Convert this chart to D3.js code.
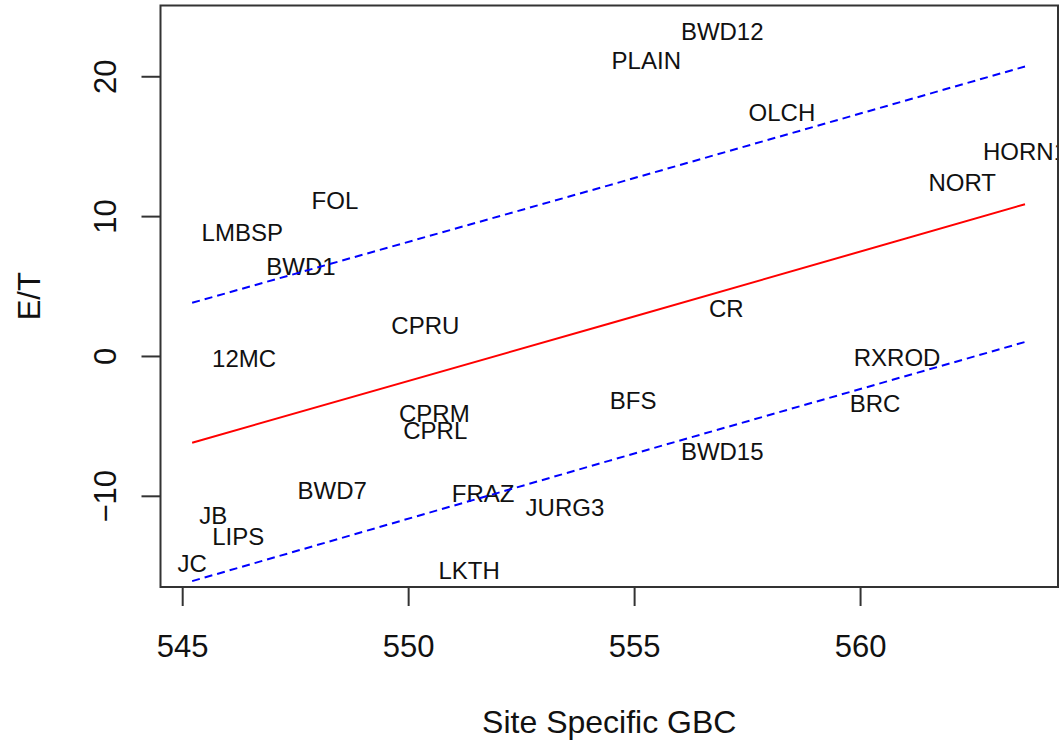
<!DOCTYPE html>
<html>
<head>
<meta charset="utf-8">
<script src="https://cdn.jsdelivr.net/npm/d3@7"></script>
<style>
  html, body { margin: 0; padding: 0; background: #ffffff; }
  svg { display: block; }
  text { font-family: "Liberation Sans", Arial, sans-serif; fill: #111; }
</style>
</head>
<body>
<script>
// ---- data ----
const siteNames = ["BWD12","PLAIN","OLCH","HORN1","NORT","FOL","LMBSP","BWD1","CPRU","CR",
  "12MC","RXROD","BFS","BRC","CPRM","CPRL","BWD15","BWD7","FRAZ","JURG3","JB","LIPS","JC","LKTH"];
const siteGBC = [556.95,555.27,558.27,563.65,562.26,548.38,546.33,547.63,550.38,557.04,
  546.37,560.82,554.98,560.33,550.58,550.60,556.95,548.32,551.66,553.47,545.69,546.24,545.22,551.35];
const siteET = [23.2,21.1,17.4,14.6,12.4,11.1,8.8,6.4,2.2,3.4,
  -0.2,-0.1,-3.2,-3.4,-4.1,-5.3,-6.8,-9.6,-9.8,-10.8,-11.4,-12.9,-14.8,-15.3];

const lineX = [545.22, 554.44, 563.65];
const fitY = [-6.2, 2.3, 10.85];
const upperY = [3.8, 12.2, 20.7];
const lowerY = [-16.1, -7.5, 1.0];

const xTicks = [545, 550, 555, 560];
const yTicks = [-10, 0, 10, 20];
const xTitle = "Site Specific GBC";
const yTitle = "E/T";

// ---- layout ----
const W = 1064, H = 746;
const box = {left: 160.5, right: 1058, top: 5.5, bottom: 587};

const x = d3.scaleLinear().domain([544.52, 564.38]).range([box.left, box.right]);
const y = d3.scaleLinear().domain([-16.52, 25.06]).range([box.bottom, box.top]);

const svg = d3.select("body").append("svg").attr("width", W).attr("height", H);

svg.append("defs").append("clipPath").attr("id", "plotclip")
  .append("rect").attr("x", box.left).attr("y", box.top)
  .attr("width", box.right - box.left).attr("height", box.bottom - box.top);

const plot = svg.append("g").attr("clip-path", "url(#plotclip)");

const line = d3.line().x(d => x(d[0])).y(d => y(d[1]));

// labels
const labelSize = 24;
plot.selectAll("text.site").data(siteNames).join("text")
  .attr("class", "site")
  .attr("x", (d, i) => x(siteGBC[i]))
  .attr("y", (d, i) => y(siteET[i]) + 0.358 * labelSize)
  .attr("text-anchor", "middle")
  .attr("font-size", labelSize)
  .text(d => d);

// fitted line and bands
plot.append("path").datum(lineX.map((v, i) => [v, fitY[i]]))
  .attr("d", line).attr("fill", "none").attr("stroke", "#ff0000").attr("stroke-width", 2);
[upperY, lowerY].forEach(arr => {
  plot.append("path").datum(lineX.map((v, i) => [v, arr[i]]))
    .attr("d", line).attr("fill", "none").attr("stroke", "#0000ff")
    .attr("stroke-width", 2).attr("stroke-dasharray", "8,5");
});

// box
svg.append("rect").attr("x", box.left).attr("y", box.top)
  .attr("width", box.right - box.left).attr("height", box.bottom - box.top)
  .attr("fill", "none").attr("stroke", "#333").attr("stroke-width", 2);

// axes
const tickSize = 31;
const xAxis = d3.axisBottom(x).tickValues(xTicks).tickSize(19).tickPadding(28).tickFormat(d3.format("d"));
const gx = svg.append("g").attr("transform", `translate(0,${box.bottom})`).call(xAxis);
gx.select(".domain").remove();
gx.selectAll(".tick line").attr("stroke", "#333").attr("stroke-width", 2);
gx.selectAll(".tick text").attr("font-size", tickSize).attr("font-family", "Liberation Sans, Arial, sans-serif")
  .attr("fill", "#111").attr("dy", null).attr("y", 70);

const yAxis = d3.axisLeft(y).tickValues(yTicks).tickSize(19).tickFormat(d3.format("d"));
const gy = svg.append("g").attr("transform", `translate(${box.left},0)`).call(yAxis);
gy.select(".domain").remove();
gy.selectAll(".tick line").attr("stroke", "#333").attr("stroke-width", 2);
gy.selectAll(".tick text").attr("font-size", tickSize).attr("font-family", "Liberation Sans, Arial, sans-serif")
  .attr("fill", "#111").attr("x", null).attr("dy", null)
  .attr("text-anchor", "middle")
  .attr("transform", `translate(${116 - box.left},0) rotate(-90)`);

// titles
svg.append("text").attr("x", (box.left + box.right) / 2).attr("y", 733)
  .attr("text-anchor", "middle").attr("font-size", 32).text(xTitle);
svg.append("text").attr("transform", `translate(40,${(box.top + box.bottom) / 2}) rotate(-90)`)
  .attr("text-anchor", "middle").attr("font-size", 31).text(yTitle);
</script>
</body>
</html>
